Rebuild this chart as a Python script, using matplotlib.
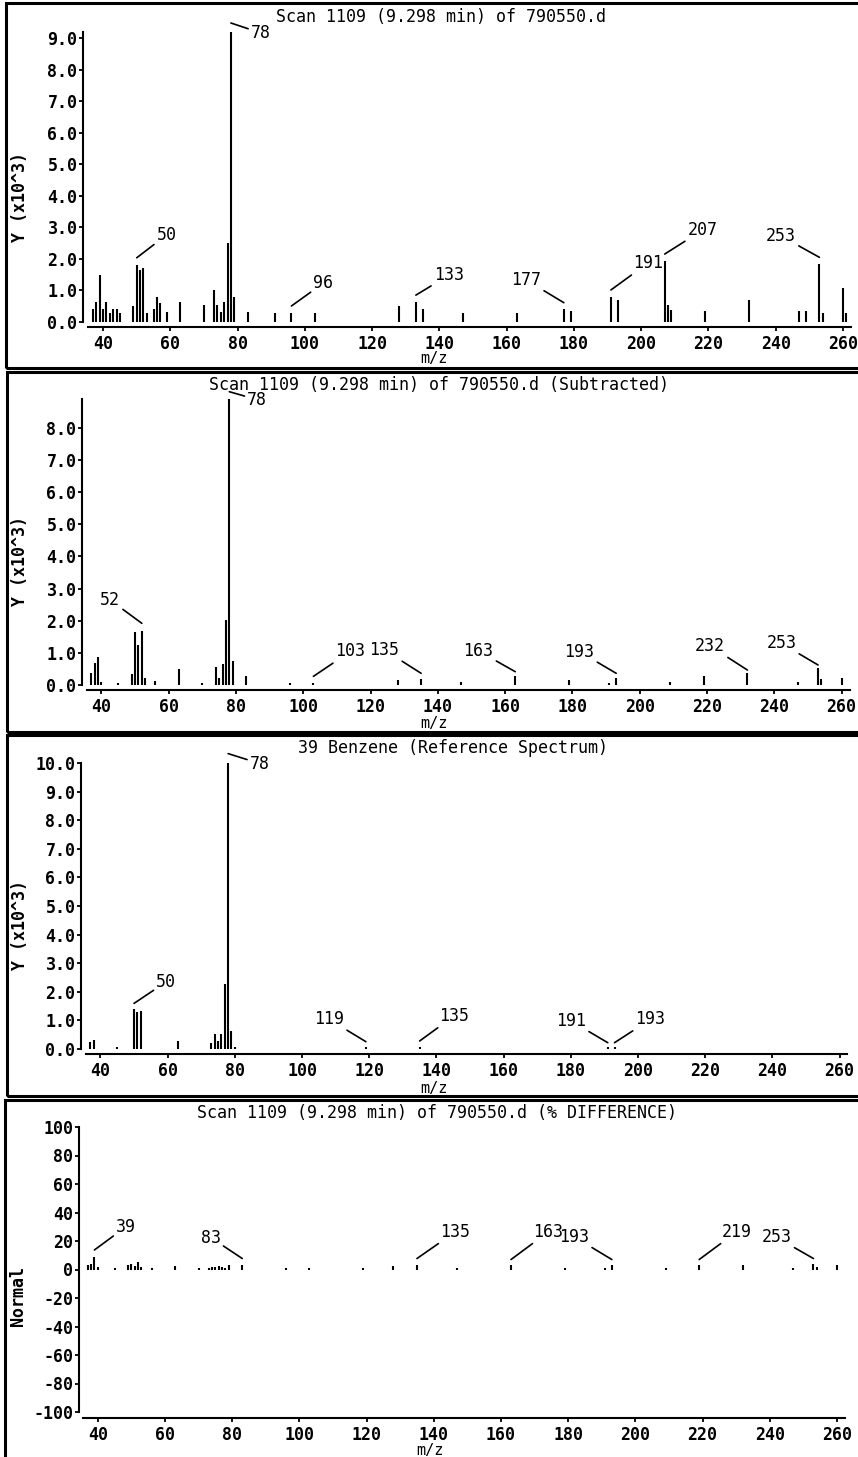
import matplotlib
matplotlib.use("Agg")
import matplotlib.pyplot as plt
from matplotlib.patches import Rectangle
from matplotlib.transforms import offset_copy

# ---------------- data (intensities in thousands, last panel in %) ----------------
# Panel 1: Scan 1109
mz1 = [37, 38, 39, 40, 41, 42, 43, 44, 45, 49, 50, 51, 52, 53, 55, 56, 57, 59, 63, 70,
       73, 74, 75, 76, 77, 78, 79, 83, 91, 96, 103, 128, 133, 135, 147, 163, 177, 179,
       191, 193, 207, 208, 209, 219, 232, 247, 249, 253, 254, 260, 261]
int1 = [0.42, 0.63, 1.5, 0.42, 0.65, 0.3, 0.4, 0.4, 0.27, 0.5, 1.8, 1.65, 1.72, 0.27,
        0.42, 0.8, 0.6, 0.32, 0.63, 0.53, 1.02, 0.53, 0.32, 0.63, 2.5, 9.2, 0.8, 0.32,
        0.27, 0.27, 0.27, 0.5, 0.63, 0.42, 0.3, 0.3, 0.4, 0.35, 0.8, 0.69, 1.94, 0.53,
        0.38, 0.35, 0.69, 0.35, 0.35, 1.83, 0.27, 1.09, 0.3]
peaks1 = [78, 50, 96, 133, 177, 191, 207, 253]

# Panel 2: subtracted scan
mz2 = [37, 38, 39, 40, 45, 49, 50, 51, 52, 53, 56, 63, 70, 74, 75, 76, 77, 78, 79, 83,
       96, 103, 128, 135, 147, 163, 179, 191, 193, 209, 219, 232, 247, 253, 254, 260]
int2 = [0.36, 0.68, 0.88, 0.08, 0.06, 0.33, 1.66, 1.26, 1.68, 0.22, 0.13, 0.49, 0.05,
        0.55, 0.22, 0.65, 2.02, 8.9, 0.76, 0.28, 0.06, 0.06, 0.17, 0.2, 0.1, 0.28, 0.15,
        0.06, 0.23, 0.1, 0.28, 0.36, 0.1, 0.52, 0.2, 0.22]
peaks2 = [78, 52, 103, 135, 163, 193, 232, 253]

# Panel 3: benzene reference spectrum
mz3 = [37, 38, 45, 50, 51, 52, 63, 73, 74, 75, 76, 77, 78, 79, 80, 119, 135, 191, 193]
int3 = [0.23, 0.33, 0.07, 1.4, 1.3, 1.33, 0.28, 0.2, 0.51, 0.28, 0.51, 2.27, 10.0, 0.63,
        0.07, 0.07, 0.07, 0.07, 0.07]
peaks3 = [78, 50, 119, 135, 191, 193]

# Panel 4: % difference
mz4 = [37, 38, 39, 40, 45, 49, 50, 51, 52, 53, 56, 63, 70, 73, 74, 75, 76, 77, 78, 79,
       83, 96, 103, 119, 128, 135, 147, 163, 179, 191, 193, 209, 219, 232, 247, 253, 254,
       260]
int4 = [3, 4, 9, 1.5, 1, 3, 4, 2.5, 5, 2, 1, 2.5, 1, 1, 1.5, 2, 2.5, 2, 1, 3.5, 3.5, 1,
        1, 1, 2.5, 3, 1, 3, 1, 1, 3, 1, 3, 3, 1, 4, 1.5, 3]
peaks4 = [39, 83, 135, 163, 193, 219, 253]

titles = ["Scan 1109 (9.298 min) of 790550.d",
          "Scan 1109 (9.298 min) of 790550.d (Subtracted)",
          "39 Benzene (Reference Spectrum)",
          "Scan 1109 (9.298 min) of 790550.d (% DIFFERENCE)"]
ylabels = ["Y (x10^3)", "Y (x10^3)", "Y (x10^3)", "Normal"]

# ---------------- layout (pixels) ----------------
W, H = 858, 1457
plt.rcParams["font.family"] = ["DejaVu Sans Mono", "DejaVu Sans"]

fig = plt.figure(figsize=(W / 100, H / 100), dpi=100)

# label leader lines: (dx, dy, gap above bar) in pixels
offs1 = [(20, -10, 9), (20, 23, 7.5), (22, 23, 7.5), (18, 20, 7), (-22.6, 22.7, 6.7),
         (21.7, 26.7, 6.8), (23, 24, 6.8), (-23.4, 21.3, 7)]
offs2 = [(18, -8, 7.3), (-21.7, 23.3, 7.7), (22, 25, 6.7), (-21.7, 23.3, 5.3),
         (-21.7, 20.7, 4.3), (-21.7, 21.6, 4.3), (-22.3, 24, 3.4), (-21.7, 21.7, 3.3)]
offs3 = [(21.7, -10, 9.4), (22.3, 21.6, 5.6), (-21.7, 22.3, 5.3), (19.3, 25, 6),
         (-21.6, 21.6, 4.3), (21, 23.3, 4.3)]
offs4 = [(21.7, 23.4, 6.7), (-21.6, 21, 6), (23.3, 26.7, 6.7), (22.3, 27.7, 5.7),
         (-22.6, 22.7, 5.7), (22.4, 27.7, 5.7), (-21.7, 21, 5.3)]


def panel(box, xlim, ylim, yticks, yfmt, mzs, ints, peaks, offs, out=(5, 5)):
    left, right, top, bottom = box
    ax = fig.add_axes([left / W, 1 - bottom / H, (right - left) / W, (bottom - top) / H])
    ax.vlines(mzs, 0, ints, colors="k", lw=1.5)
    ax.set_xlim(*xlim)
    ax.set_ylim(*ylim)
    ax.set_xticks(range(40, 261, 20))
    ax.set_yticks(yticks)
    ax.set_yticklabels([yfmt.format(v) for v in yticks])
    ax.spines["top"].set_visible(False)
    ax.spines["right"].set_visible(False)
    ax.spines["left"].set_position(("outward", out[0] * 0.72))
    ax.spines["bottom"].set_position(("outward", out[1] * 0.72))
    for s in ("left", "bottom"):
        ax.spines[s].set_linewidth(1.5)
    ax.tick_params(direction="out", length=3, width=1.3, labelsize=12)
    ax.tick_params(axis="y", pad=1)
    ax.tick_params(axis="x", pad=3)
    for lab in ax.get_xticklabels() + ax.get_yticklabels():
        lab.set_fontweight("bold")

    for m, (dx, dy, gap) in zip(peaks, offs):
        y = ints[mzs.index(m)]
        start = offset_copy(ax.transData, fig=fig, x=0, y=gap, units="dots")
        ax.annotate(str(m), xy=(m, y), xycoords=start, xytext=(dx, dy),
                    textcoords="offset pixels", ha="left" if dx > 0 else "right",
                    va="center", fontsize=12, annotation_clip=False,
                    arrowprops=dict(arrowstyle="-", lw=1.2, color="k",
                                    shrinkA=0, shrinkB=0))
    return ax


panel((88, 851, 32, 322), (35.5, 262.4), (0, 9.2), [i * 1.0 for i in range(10)],
      "{:.1f}", mz1, int1, peaks1, offs1)
panel((87, 850, 399, 685), (35.7, 262.5), (0, 8.9), [i * 1.0 for i in range(9)],
      "{:.1f}", mz2, int2, peaks2, offs2)
panel((86, 847, 763, 1049), (35.7, 262.2), (0, 10.0), [i * 1.0 for i in range(11)],
      "{:.1f}", mz3, int3, peaks3, offs3)
panel((83, 845, 1127, 1412), (35.6, 262.4), (-100, 100), list(range(-100, 101, 20)),
      "{:d}", mz4, int4, peaks4, offs4, out=(4, 6))

# panel frames
frames = [(6, 3, 368), (7, 372, 732), (7, 735, 1096), (5, 1100, 1470)]
for x0, y0, y1 in frames:
    fig.add_artist(Rectangle((x0 / W, 1 - y1 / H), (880 - x0) / W, (y1 - y0) / H,
                             transform=fig.transFigure, fill=False, lw=2.2, ec="k"))

# titles, axis labels
title_pos = [(441, 17), (439, 385), (453, 748), (437, 1113)]
xlab_pos = [(434, 359), (434, 724), (434, 1089), (430, 1450)]
ylab_pos = [(20, 197), (20, 561), (20, 925), (18, 1296)]
for t, (tx, ty), (xx, xy), (yx, yy), yl in zip(titles, title_pos, xlab_pos, ylab_pos, ylabels):
    fig.text(tx / W, 1 - ty / H, t, ha="center", va="center", fontsize=12)
    fig.text(xx / W, 1 - xy / H, "m/z", ha="center", va="center", fontsize=11)
    fig.text(yx / W, 1 - yy / H, yl, ha="center", va="center", fontsize=12,
             rotation=90, fontweight="bold")

fig.savefig("out.png", dpi=100, facecolor="white")
